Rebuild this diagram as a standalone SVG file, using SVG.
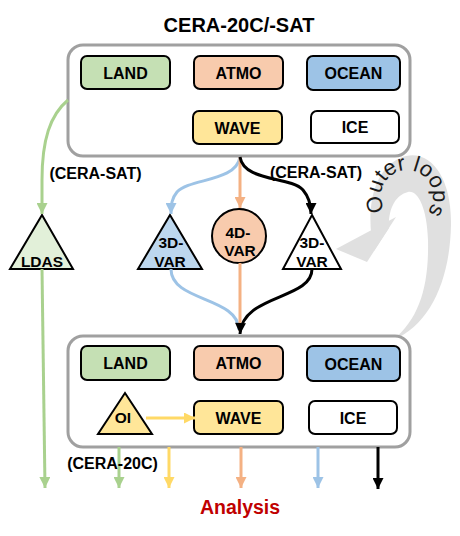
<svg xmlns="http://www.w3.org/2000/svg" width="460" height="536" viewBox="0 0 460 536">
<style>
.t{font-family:"Liberation Sans",Arial,sans-serif;font-weight:bold;fill:#000;text-anchor:middle}
.outer{fill:#fff;stroke:#a0a0a0;stroke-width:3}
.box{stroke:#000;stroke-width:2}
.tri{stroke:#000;stroke-width:2;stroke-linejoin:miter}
.ln{fill:none;stroke-width:3}
</style>
<defs>
<marker id="mG" viewBox="0 0 10 10" refX="10" refY="5" markerWidth="12" markerHeight="11" markerUnits="userSpaceOnUse" orient="auto"><path d="M0,0 L10,5 L0,10 Z" fill="#a9d18e"/></marker>
<marker id="mB" viewBox="0 0 10 10" refX="10" refY="5" markerWidth="12" markerHeight="11" markerUnits="userSpaceOnUse" orient="auto"><path d="M0,0 L10,5 L0,10 Z" fill="#9dc3e6"/></marker>
<marker id="mO" viewBox="0 0 10 10" refX="10" refY="5" markerWidth="12" markerHeight="11" markerUnits="userSpaceOnUse" orient="auto"><path d="M0,0 L10,5 L0,10 Z" fill="#f4b183"/></marker>
<marker id="mK" viewBox="0 0 10 10" refX="10" refY="5" markerWidth="12" markerHeight="11" markerUnits="userSpaceOnUse" orient="auto"><path d="M0,0 L10,5 L0,10 Z" fill="#000"/></marker>
<marker id="mY" viewBox="0 0 10 10" refX="10" refY="5" markerWidth="12" markerHeight="11" markerUnits="userSpaceOnUse" orient="auto"><path d="M0,0 L10,5 L0,10 Z" fill="#ffd966"/></marker>
<path id="loopText" d="M 385.4 210.5 A 26 26 0 1 1 426.9 212.7"/>
</defs>

<g id="outer-loops">
<path d="M 374 251 C 366 215, 370 172, 400 158 C 428 146, 452 175, 451 225 C 450 280, 430 325, 393 340 C 420 318, 429 285, 428 240 C 427 208, 418 190, 408 192 C 395 195, 388 210, 389 228 Z" fill="#e0e0e0"/>
<polygon points="336,249 396,217 367,262" fill="#e0e0e0"/>
<text font-family="'Liberation Sans',Arial,sans-serif" font-size="22" fill="#1a1a1a"><textPath href="#loopText">Outer loops</textPath></text>
</g>

<text class="t" x="239" y="32" font-size="20">CERA-20C/-SAT</text>

<g id="top-system">
<rect class="outer" x="68" y="45" width="342" height="111" rx="15"/>
<g id="top-land"><rect class="box" x="81" y="56" width="89" height="33" rx="6" fill="#c5e0b4"/><text class="t" x="125.5" y="78.5" font-size="16">LAND</text></g>
<g id="top-atmo"><rect class="box" x="194" y="56" width="89" height="33" rx="6" fill="#f8cbad"/><text class="t" x="238.5" y="78.5" font-size="16">ATMO</text></g>
<g id="top-ocean"><rect class="box" x="307" y="56" width="93" height="34" rx="6" fill="#9dc3e6"/><text class="t" x="353.5" y="79" font-size="16">OCEAN</text></g>
<g id="top-wave"><rect class="box" x="193" y="111" width="89" height="33" rx="6" fill="#ffe699"/><text class="t" x="237.5" y="133.5" font-size="16">WAVE</text></g>
<g id="top-ice"><rect class="box" x="311" y="111" width="88" height="32" rx="6" fill="#fff"/><text class="t" x="355" y="133" font-size="16">ICE</text></g>
</g>

<g id="bottom-system">
<rect class="outer" x="68" y="336" width="342" height="111" rx="15"/>
<g id="bot-land"><rect class="box" x="81" y="346" width="89" height="34" rx="6" fill="#c5e0b4"/><text class="t" x="125.5" y="369" font-size="16">LAND</text></g>
<g id="bot-atmo"><rect class="box" x="194" y="346" width="89" height="34" rx="6" fill="#f8cbad"/><text class="t" x="238.5" y="369" font-size="16">ATMO</text></g>
<g id="bot-ocean"><rect class="box" x="307" y="346" width="93" height="35" rx="6" fill="#9dc3e6"/><text class="t" x="353.5" y="369.5" font-size="16">OCEAN</text></g>
<g id="bot-wave"><rect class="box" x="194" y="401" width="89" height="33" rx="6" fill="#ffe699"/><text class="t" x="238.5" y="423.5" font-size="16">WAVE</text></g>
<g id="bot-ice"><rect class="box" x="309" y="401" width="88" height="33" rx="6" fill="#fff"/><text class="t" x="353" y="423.5" font-size="16">ICE</text></g>
<g id="oi"><polygon class="tri" points="125,393 152,434 98,434" fill="#ffe699"/><text class="t" x="123" y="423" font-size="15.5">OI</text></g>
</g>

<g id="ldas"><polygon class="tri" points="42,215 73,269 10,269" fill="#e2f0d9"/><text class="t" x="42" y="267" font-size="15.5">LDAS</text></g>
<g id="var3d-ocean"><polygon class="tri" points="170,215 202,269 138,269" fill="#bdd7ee"/><text class="t" x="171" y="248" font-size="15.5">3D-</text><text class="t" x="170" y="267" font-size="15.5">VAR</text></g>
<g id="var4d"><circle cx="239" cy="236" r="27" fill="#f8cbad" stroke="#000" stroke-width="2"/><text class="t" x="238" y="238" font-size="15.5">4D-</text><text class="t" x="240" y="256" font-size="15.5">VAR</text></g>
<g id="var3d-ice"><polygon class="tri" points="312,215 341,269 283,269" fill="#fff"/><text class="t" x="312" y="248" font-size="15.5">3D-</text><text class="t" x="312" y="267" font-size="15.5">VAR</text></g>

<g id="connectors">
<path class="ln" stroke="#a9d18e" d="M 68 100 C 50 115, 42 140, 42 180 L 42 214" marker-end="url(#mG)"/>
<path class="ln" stroke="#9dc3e6" d="M 240 157 C 236 182, 190 178, 177 192 C 172 198, 171 204, 171 214" marker-end="url(#mB)"/>
<path class="ln" stroke="#f4b183" d="M 240 157 L 240 208" marker-end="url(#mO)"/>
<path class="ln" stroke="#000" d="M 240 157 C 244 182, 290 176, 303 190 C 309 197, 311 204, 311 214" marker-end="url(#mK)"/>
<path class="ln" stroke="#9dc3e6" d="M 171 269 C 171 302, 238 296, 239 330"/>
<path class="ln" stroke="#f4b183" d="M 240 263 L 240 331"/>
<path class="ln" stroke="#000" d="M 312 269 C 312 300, 242 294, 240 334" marker-end="url(#mK)"/>
<path class="ln" stroke="#ffd966" d="M 146 418 L 195 418" marker-end="url(#mY)"/>
<path class="ln" stroke="#a9d18e" d="M 42 269 L 45 488" marker-end="url(#mG)"/>
<path class="ln" stroke="#a9d18e" d="M 119 447 L 119 488" marker-end="url(#mG)"/>
<path class="ln" stroke="#ffd966" d="M 169 447 L 169 488" marker-end="url(#mY)"/>
<path class="ln" stroke="#f4b183" d="M 241 447 L 241 488" marker-end="url(#mO)"/>
<path class="ln" stroke="#9dc3e6" d="M 318 447 L 318 488" marker-end="url(#mB)"/>
<path class="ln" stroke="#000" d="M 378 447 L 378 489" marker-end="url(#mK)"/>
</g>

<text class="t" x="95.5" y="179" font-size="16">(CERA-SAT)</text>
<text class="t" x="316" y="178" font-size="16">(CERA-SAT)</text>
<text class="t" x="112.5" y="469" font-size="16">(CERA-20C)</text>
<text class="t" x="240" y="514" font-size="19.5" style="fill:#c00000">Analysis</text>
</svg>
